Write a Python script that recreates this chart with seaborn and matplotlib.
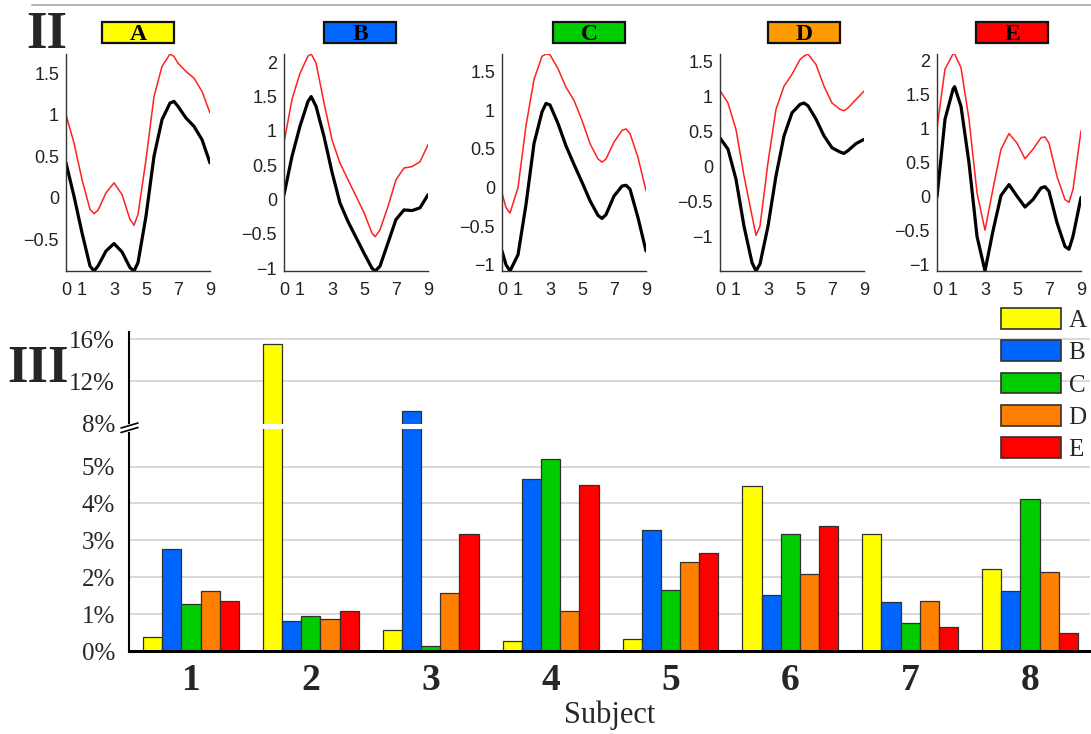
import numpy as np
import pandas as pd
import matplotlib
matplotlib.use("Agg")
import matplotlib.pyplot as plt
import seaborn as sns
from matplotlib.patches import Rectangle, Patch
from matplotlib.lines import Line2D
from matplotlib.ticker import FixedLocator, FuncFormatter

# ---- panel II: smoothed curves per condition (black = estimate, red = upper) ----
x_a = [0, 0.5, 1, 1.5, 1.75, 2, 2.5, 3, 3.5, 4, 4.25, 4.5, 5, 5.5, 6, 6.5, 6.75, 7, 7.5, 8, 8.5, 9]
black_a = [0.42, 0.02, -0.42, -0.82, -0.88, -0.82, -0.64, -0.55, -0.65, -0.84, -0.88, -0.78,
           -0.22, 0.50, 0.94, 1.14, 1.16, 1.10, 0.96, 0.86, 0.70, 0.42]
red_a = [1.00, 0.66, 0.22, -0.14, -0.19, -0.15, 0.06, 0.18, 0.04, -0.26, -0.33, -0.20,
         0.46, 1.22, 1.58, 1.73, 1.70, 1.62, 1.52, 1.44, 1.28, 1.02]

x_b = [0, 0.5, 1, 1.5, 1.7, 2, 2.5, 3, 3.5, 4, 4.5, 5, 5.5, 5.7, 6, 6.5, 7, 7.5, 8, 8.5, 9]
black_b = [0.07, 0.63, 1.07, 1.43, 1.50, 1.36, 0.92, 0.40, -0.05, -0.32, -0.55, -0.78,
           -1.00, -1.04, -0.97, -0.63, -0.29, -0.15, -0.16, -0.12, 0.07]
red_b = [0.83, 1.46, 1.84, 2.09, 2.12, 1.99, 1.41, 0.87, 0.53, 0.29, 0.05, -0.19,
         -0.49, -0.54, -0.44, -0.10, 0.29, 0.46, 0.48, 0.55, 0.80]

x_c = [0, 0.25, 0.5, 1, 1.5, 2, 2.5, 2.75, 3, 3.5, 4, 4.5, 5, 5.5, 6, 6.25, 6.5, 7, 7.5, 7.75, 8, 8.5, 9]
black_c = [-0.82, -1.00, -1.08, -0.87, -0.22, 0.57, 0.98, 1.09, 1.07, 0.83, 0.54, 0.30,
           0.07, -0.17, -0.36, -0.40, -0.35, -0.11, 0.02, 0.03, -0.02, -0.39, -0.82]
red_c = [-0.07, -0.26, -0.33, 0.00, 0.80, 1.40, 1.70, 1.73, 1.72, 1.54, 1.30, 1.13,
         0.87, 0.57, 0.37, 0.33, 0.37, 0.59, 0.74, 0.76, 0.70, 0.39, -0.04]

x_d = [0, 0.5, 1, 1.5, 2, 2.25, 2.5, 3, 3.5, 4, 4.5, 5, 5.25, 5.5, 6, 6.5, 7, 7.5, 7.75, 8, 8.5, 9]
black_d = [0.40, 0.24, -0.19, -0.86, -1.38, -1.50, -1.40, -0.86, -0.14, 0.43, 0.76, 0.88,
           0.90, 0.86, 0.67, 0.43, 0.26, 0.20, 0.18, 0.22, 0.32, 0.38]
red_d = [1.08, 0.90, 0.52, -0.14, -0.71, -0.99, -0.86, 0.05, 0.81, 1.14, 1.31, 1.52,
         1.57, 1.60, 1.45, 1.14, 0.90, 0.81, 0.79, 0.83, 0.95, 1.07]

x_e = [0, 0.5, 1, 1.1, 1.5, 2, 2.5, 3, 3.5, 4, 4.5, 5, 5.5, 6, 6.5, 6.75, 7, 7.5, 8, 8.25, 8.5, 9]
black_e = [0.00, 1.14, 1.58, 1.62, 1.33, 0.50, -0.58, -1.09, -0.50, 0.02, 0.18, 0.01,
           -0.15, -0.04, 0.13, 0.15, 0.08, -0.38, -0.73, -0.77, -0.58, -0.01]
red_e = [1.01, 1.88, 2.10, 2.10, 1.90, 1.14, 0.06, -0.49, 0.12, 0.70, 0.93, 0.79,
         0.56, 0.70, 0.87, 0.88, 0.79, 0.30, -0.04, -0.08, 0.11, 0.97]

curve_ticks = [[-0.5, 0, 0.5, 1, 1.5], [-1, -0.5, 0, 0.5, 1, 1.5, 2], [-1, -0.5, 0, 0.5, 1, 1.5],
               [-1, -0.5, 0, 0.5, 1, 1.5], [-1, -0.5, 0, 0.5, 1, 1.5, 2]]

# ---- panel III: rate per subject and condition (%) ----
conditions = ["A", "B", "C", "D", "E"]
subjects = ["1", "2", "3", "4", "5", "6", "7", "8"]
rate_a = [0.39, 15.52, 0.58, 0.28, 0.33, 4.48, 3.16, 2.23]
rate_b = [2.77, 0.82, 9.14, 4.67, 3.28, 1.51, 1.32, 1.62]
rate_c = [1.27, 0.96, 0.13, 5.21, 1.64, 3.16, 0.76, 4.12]
rate_d = [1.62, 0.88, 1.56, 1.08, 2.42, 2.10, 1.35, 2.14]
rate_e = [1.35, 1.08, 3.18, 4.51, 2.66, 3.38, 0.65, 0.50]

bar_colors = ["#FFFF00", "#0064FF", "#00CC00", "#FF8000", "#FF0000"]
title_colors = ["#FFFF00", "#0066FF", "#00CC00", "#FF9900", "#FF0000"]

sns.set_style("white")
plt.rcParams["font.family"] = ["Liberation Sans", "DejaVu Sans"]

W, H = 1091, 734
fig = plt.figure(figsize=(W / 100, H / 100), dpi=100)


def px(x, y):
    return x / W, 1 - y / H


# separator line and panel labels
fig.add_artist(Line2D([32 / W, 1], [1 - 5 / H] * 2, color="#b4b4b4", lw=1.4))
fig.text(*px(26, 48), "II", fontsize=38, weight="bold", family="Liberation Serif", va="baseline")
fig.text(*px(7, 382), "III", fontsize=38, weight="bold", family="Liberation Serif", va="baseline")

curves = [(x_a, black_a, red_a), (x_b, black_b, red_b), (x_c, black_c, red_c),
          (x_d, black_d, red_d), (x_e, black_e, red_e)]
lefts = [66, 284, 502, 720, 937]
box_lefts = [102, 324, 553, 768, 976]
fmt = FuncFormatter(lambda v, p: f"{v:g}".replace("-", "\u2212"))

for i, (xs, blk, red) in enumerate(curves):
    ax = fig.add_axes([lefts[i] / W, 1 - 271 / H, 144 / W, 217 / H])
    sns.lineplot(x=xs, y=red, color="#FF2020", lw=1.1, ax=ax)
    sns.lineplot(x=xs, y=blk, color="black", lw=2.3, ax=ax)
    ax.set_xlim(0, 9)
    ax.set_ylim(min(blk + red), max(blk + red))
    ax.set_xticks([0, 1, 3, 5, 7, 9])
    ax.set_yticks(curve_ticks[i])
    ax.yaxis.set_major_formatter(fmt)
    ax.set_xlabel("")
    ax.set_ylabel("")
    ax.tick_params(direction="in", length=3, width=0.8, color="#333333", labelsize=13,
                   labelcolor="#222222")
    ax.tick_params(axis="x", pad=8)
    ax.tick_params(axis="y", pad=5)
    for s in ["top", "right"]:
        ax.spines[s].set_visible(False)
    for s in ["left", "bottom"]:
        ax.spines[s].set_color("#333333")
        ax.spines[s].set_linewidth(1.0)
    # colored condition header
    bx, by = px(box_lefts[i], 43)
    fig.add_artist(Rectangle((bx, by), 72 / W, 21 / H, transform=fig.transFigure,
                             facecolor=title_colors[i], edgecolor="#111111", lw=1.6))
    fig.text(bx + 36 / W, by + 9 / H, conditions[i], ha="center", va="center", color="black",
             fontsize=17, weight="bold", family="Liberation Serif")

# ---- bar chart with broken y axis ----
df = pd.DataFrame({
    "Subject": subjects * 5,
    "Condition": np.repeat(conditions, len(subjects)),
    "Rate": rate_a + rate_b + rate_c + rate_d + rate_e,
})

bx0, by0 = px(129, 651)
axb = fig.add_axes([bx0, by0, 961 / W, 319 / H])
sns.barplot(data=df, x="Subject", y="Rate", hue="Condition", palette=bar_colors,
            saturation=1, width=0.8, edgecolor="#303030", linewidth=0.9, ax=axb, legend=False)


def fwd(y):
    y = np.asarray(y, dtype=float)
    return np.where(y <= 6, y * 36.9,
                    np.where(y <= 8, 221.4 + (y - 6) * 3.15, 227.7 + (y - 8) * 10.5))


def inv(u):
    u = np.asarray(u, dtype=float)
    return np.where(u <= 221.4, u / 36.9,
                    np.where(u <= 227.7, 6 + (u - 221.4) / 3.15, 8 + (u - 227.7) / 10.5))


axb.set_yscale("function", functions=(fwd, inv))
axb.set_ylim(0, 16.7)
axb.set_xlim(-0.517, 7.5)
axb.set_yticks([0, 1, 2, 3, 4, 5, 8, 12, 16])
axb.yaxis.set_major_formatter(FuncFormatter(lambda v, p: f"{v:g}%"))
axb.yaxis.set_minor_locator(FixedLocator([0.5, 1.5, 2.5, 3.5, 4.5, 5.5, 10, 14]))
axb.xaxis.set_minor_locator(FixedLocator(np.arange(0.5, 7.5, 1)))
axb.set_xlabel("Subject", family="Liberation Serif", fontsize=22, va="top")
axb.xaxis.set_label_coords(0.5, -0.155)
axb.set_ylabel("")
axb.yaxis.grid(True, color="#d2d2d2", lw=1.2)
axb.set_axisbelow(True)
for val, t in zip([0, 1, 2, 3, 4, 5, 8, 12, 16], axb.yaxis.get_major_ticks()):
    if val in (0, 8):
        t.gridline.set_visible(False)
axb.tick_params(axis="y", which="major", direction="out", length=6, width=1, pad=4,
                labelsize=18)
axb.tick_params(axis="y", which="minor", direction="out", length=3, width=1)
axb.tick_params(axis="x", which="both", direction="out", length=6, width=1.5, pad=3,
                labelsize=27)
for lab in axb.get_yticklabels():
    lab.set_family("Liberation Serif")
for lab in axb.get_xticklabels():
    lab.set_family("Liberation Serif")
    lab.set_weight("bold")
for s in ["top", "right"]:
    axb.spines[s].set_visible(False)
axb.spines["left"].set_linewidth(1.5)
axb.spines["left"].set_color("black")
axb.spines["bottom"].set_linewidth(2.2)
axb.spines["bottom"].set_color("black")

# white cut through the bars at the axis break
axb.axhspan(6.3, 7.7, color="white", zorder=3, lw=0)

# break marks on the y axis
fig.add_artist(Line2D(*zip(px(129, 425.5), px(129, 430)), color="white", lw=3, zorder=10))
fig.add_artist(Line2D(*zip(px(121, 428), px(138, 423)), color="black", lw=1.2, zorder=11))
fig.add_artist(Line2D(*zip(px(121, 432.5), px(138, 427.5)), color="black", lw=1.2, zorder=11))

handles = [Patch(facecolor=c, edgecolor="#303030", lw=1.2) for c in bar_colors]
fig.legend(handles, conditions, loc="upper left", bbox_to_anchor=px(1001, 308),
           frameon=False, prop={"family": "Liberation Serif", "size": 18},
           handlelength=2.4, handleheight=0.9, labelspacing=0.33, handletextpad=0.3,
           borderpad=0, borderaxespad=0)

fig.savefig("out.png", dpi=100)
